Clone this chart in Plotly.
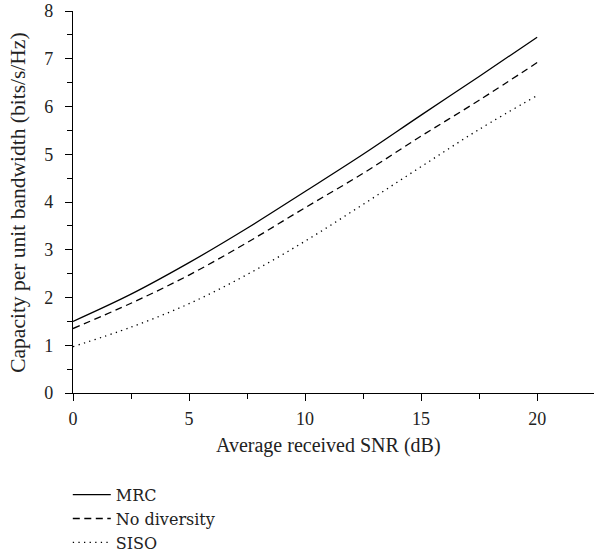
import plotly.graph_objects as go

snr_db = [0, 2.5, 5, 7.5, 10, 12.5, 15, 17.5, 20]
mrc = [1.50, 2.07, 2.73, 3.45, 4.22, 5.00, 5.82, 6.63, 7.45]
no_diversity = [1.35, 1.88, 2.47, 3.15, 3.88, 4.60, 5.38, 6.13, 6.92]
siso = [0.97, 1.38, 1.87, 2.48, 3.18, 3.95, 4.74, 5.52, 6.23]

series = [("MRC", mrc, "solid"), ("No diversity", no_diversity, "7px,4.5px"), ("SISO", siso, "1.3px,4.3px")]

font_family = "Liberation Serif, Times New Roman, serif"
legend_family = "DejaVu Serif, Liberation Serif, serif"
txt = "#222"

fig = go.Figure()
for name, vals, dash in series:
    fig.add_trace(go.Scatter(x=snr_db, y=vals, mode="lines", name=name,
                             line=dict(color="black", width=1.3, dash=dash, shape="spline")))

axis_common = dict(showgrid=False, zeroline=False, showline=True, linecolor="black", linewidth=1.3,
                   ticks="outside", ticklen=7, tickwidth=1.2, tickcolor="black", automargin=False,
                   tickfont=dict(family=font_family, size=18, color=txt))

fig.update_layout(
    template="none",
    width=594, height=558,
    margin=dict(l=73, r=0, t=11, b=165, autoexpand=False),
    paper_bgcolor="white", plot_bgcolor="white",
    font=dict(family=font_family, size=18, color=txt),
    xaxis=dict(range=[0, 22.45], tickvals=[0, 5, 10, 15, 20],
               minor=dict(tickvals=[2.5, 7.5, 12.5, 17.5], ticklen=5, tickcolor="black", ticks="outside"),
               ticklabelstandoff=2,
               **axis_common),
    yaxis=dict(range=[0, 8], tickvals=list(range(0, 9)),
               minor=dict(dtick=0.5, ticklen=5, tickcolor="black", ticks="outside"),
               ticklabelstandoff=8,
               **axis_common),
    showlegend=True,
    legend=dict(x=-0.01, xanchor="left", y=-0.222, yanchor="top", bgcolor="rgba(0,0,0,0)",
                font=dict(family=legend_family, size=16, color=txt), tracegroupgap=0,
                itemwidth=38),
    annotations=[
        dict(text="Average received SNR (dB)", x=11.0, xref="x", y=-0.138, yref="paper",
             xanchor="center", yanchor="middle", showarrow=False,
             font=dict(family=font_family, size=20, color=txt)),
        dict(text="Capacity per unit bandwidth (bits/s/Hz)", x=-0.105, xref="paper", y=0.4987, yref="paper",
             xanchor="center", yanchor="middle", showarrow=False, textangle=-90,
             font=dict(family=font_family, size=21.5, color=txt)),
    ],
)

fig.write_html("out.html", post_script="document.body.style.margin='0';",
               config={"displayModeBar": False})
